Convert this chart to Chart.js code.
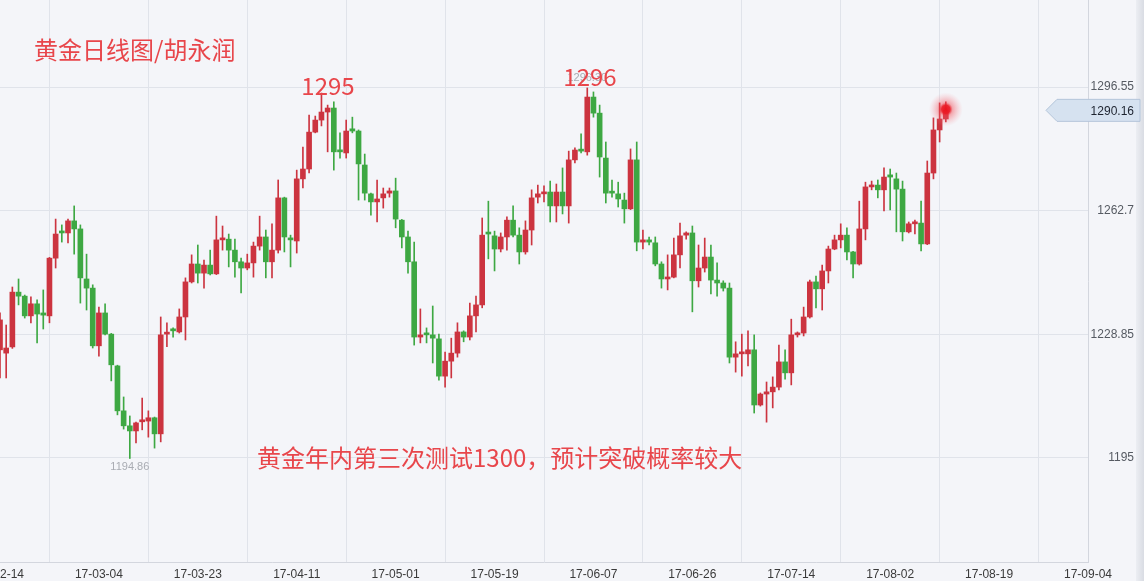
<!DOCTYPE html>
<html>
<head>
<meta charset="utf-8">
<title>黄金日线图</title>
<script src="https://cdn.jsdelivr.net/npm/chart.js@4.4.1/dist/chart.umd.min.js"></script>
<style>
  html, body { margin: 0; padding: 0; background: #f4f5f9; overflow: hidden; }
  #wrap { position: relative; width: 1144px; height: 581px; }
</style>
</head>
<body>
<div id="wrap"><canvas id="goldChart"></canvas></div>
<script>
// daily OHLC, one bar per trading day starting 17-02-14
var opens = [1224.6,1223.7,1225.4,1240.4,1239.3,1233.9,1237.2,1234.7,1233.9,1249.7,
  1256.9,1256.6,1259.9,1257.7,1244.0,1241.5,1225.7,1234.7,1228.9,1220.2,
  1207.9,1203.8,1202.4,1204.9,1205.1,1206.0,1201.6,1228.9,1230.0,1229.5,
  1233.6,1243.2,1248.1,1245.6,1247.8,1245.4,1254.7,1254.9,1251.9,1248.7,
  1247.0,1248.4,1253.0,1255.5,1248.7,1251.9,1266.2,1255.2,1254.4,1271.4,
  1274.1,1284.2,1287.5,1289.7,1290.8,1279.3,1278.5,1285.1,1284.5,1275.2,
  1267.3,1265.1,1266.2,1267.5,1268.1,1260.1,1255.5,1248.7,1228.1,1229.2,
  1228.7,1227.6,1217.4,1221.5,1223.7,1229.5,1228.1,1233.9,1236.9,1256.6,
  1255.8,1252.2,1255.5,1260.1,1256.0,1251.4,1257.4,1266.4,1267.3,1267.8,
  1264.0,1267.8,1264.0,1276.6,1279.3,1278.8,1293.8,1289.4,1277.1,1267.8,
  1267.3,1265.6,1263.2,1276.6,1254.1,1254.7,1253.9,1248.1,1244.0,1244.5,
  1250.6,1256.0,1256.6,1243.5,1247.0,1250.0,1243.7,1242.9,1241.5,1222.6,
  1223.5,1223.5,1224.6,1209.5,1212.5,1213.1,1214.4,1221.3,1218.3,1228.7,
  1229.2,1233.6,1243.2,1241.3,1246.2,1252.2,1254.7,1256.0,1251.4,1248.1,
  1257.7,1269.2,1269.7,1268.4,1272.5,1271.4,1268.6,1256.9,1259.1,1259.3,
  1253.6,1273.0,1284.8,1287.8];
var highs = [1234.7,1231.4,1241.8,1244.0,1239.6,1239.1,1238.3,1241.0,1249.9,1260.4,
  1258.8,1260.4,1264.0,1258.8,1250.8,1242.4,1236.3,1237.2,1229.1,1220.4,
  1211.7,1206.5,1204.8,1211.4,1207.9,1206.2,1233.6,1232.0,1230.6,1235.8,
  1244.3,1250.6,1253.3,1249.2,1251.9,1261.2,1258.5,1256.3,1254.9,1249.7,
  1250.8,1254.1,1261.2,1257.4,1259.1,1271.1,1266.4,1256.0,1273.8,1280.1,
  1288.9,1288.6,1294.9,1291.6,1292.5,1284.0,1287.5,1288.3,1284.8,1278.2,
  1267.5,1271.1,1268.9,1268.9,1271.6,1260.3,1257.1,1254.1,1235.8,1230.6,
  1236.6,1228.9,1224.0,1227.8,1232.0,1229.8,1237.4,1239.3,1260.7,1265.3,
  1257.1,1256.6,1261.0,1264.0,1258.0,1259.9,1268.4,1269.7,1269.5,1270.8,
  1270.0,1274.4,1279.0,1279.9,1283.7,1296.3,1295.2,1291.6,1281.5,1271.1,
  1270.5,1267.5,1279.6,1281.5,1257.4,1255.5,1255.5,1248.7,1250.6,1255.2,
  1259.3,1256.9,1258.5,1253.3,1255.2,1253.3,1248.4,1243.5,1242.9,1226.8,
  1228.9,1229.8,1228.7,1212.8,1215.8,1217.2,1225.9,1224.6,1233.0,1229.5,
  1236.3,1243.7,1244.8,1247.8,1253.0,1256.0,1259.1,1258.0,1251.6,1265.3,
  1270.5,1270.8,1271.1,1274.4,1274.1,1273.0,1270.8,1259.6,1260.1,1265.3,
  1276.3,1288.1,1292.2,1292.5];
var lows = [1216.9,1216.9,1225.0,1236.9,1233.3,1232.0,1226.5,1230.3,1232.0,1247.0,
  1254.1,1253.9,1250.8,1237.4,1235.5,1225.1,1222.9,1228.7,1216.1,1206.8,
  1202.9,1194.86,1199.1,1202.7,1200.7,1197.7,1199.4,1225.5,1228.1,1229.2,
  1227.3,1242.9,1242.9,1241.5,1245.1,1245.2,1251.9,1247.3,1244.5,1240.2,
  1246.5,1244.5,1251.9,1244.3,1244.3,1251.1,1251.4,1247.3,1251.1,1268.9,
  1273.0,1284.0,1285.9,1278.8,1273.8,1277.1,1277.1,1284.0,1265.6,1265.6,
  1261.5,1259.6,1263.4,1266.4,1258.0,1252.5,1245.6,1225.9,1226.5,1226.5,
  1221.0,1216.3,1214.4,1216.9,1222.6,1226.8,1227.3,1229.5,1236.1,1249.5,
  1246.2,1251.4,1251.9,1255.5,1248.1,1250.8,1253.3,1264.8,1265.1,1259.6,
  1259.6,1261.8,1259.3,1275.8,1278.5,1277.9,1288.3,1271.9,1264.8,1266.4,
  1263.7,1259.3,1263.0,1251.7,1252.2,1253.3,1247.6,1241.5,1241.0,1244.3,
  1247.0,1254.9,1235.0,1241.8,1245.9,1239.9,1239.3,1240.7,1221.0,1218.5,
  1217.4,1220.2,1207.3,1209.2,1204.8,1208.7,1213.6,1216.6,1215.0,1228.1,
  1228.4,1233.3,1236.1,1235.5,1242.9,1252.0,1252.5,1249.2,1244.3,1247.8,
  1254.7,1268.4,1266.2,1262.6,1262.9,1256.9,1254.4,1256.6,1256.3,1251.7,
  1253.4,1271.4,1281.5,1287.0];
var closes = [1232.8,1225.1,1240.4,1239.3,1233.9,1237.2,1234.4,1234.1,1249.7,1256.3,
  1256.6,1259.9,1257.7,1244.3,1241.5,1225.7,1234.7,1228.9,1220.5,1207.9,
  1203.8,1202.4,1204.6,1205.1,1206.0,1201.6,1228.7,1229.2,1229.8,1233.6,
  1243.2,1248.1,1245.6,1247.8,1245.4,1254.7,1255.2,1251.9,1248.7,1247.0,
  1248.4,1253.0,1255.5,1248.7,1251.9,1266.2,1255.5,1254.7,1271.4,1274.1,
  1284.2,1287.5,1289.7,1290.8,1278.8,1278.8,1284.5,1284.5,1275.5,1267.5,
  1265.1,1265.9,1267.3,1268.1,1260.4,1255.5,1248.7,1228.1,1228.7,1228.7,
  1227.8,1217.4,1221.5,1223.7,1229.5,1228.1,1233.9,1236.9,1256.0,1256.3,
  1252.2,1255.5,1260.1,1256.0,1251.4,1257.4,1266.2,1267.3,1267.8,1264.0,
  1267.8,1264.0,1276.6,1279.3,1279.0,1293.8,1289.4,1277.4,1267.5,1267.5,
  1265.9,1263.2,1276.6,1254.1,1254.7,1254.1,1248.1,1244.0,1244.5,1250.6,
  1255.8,1256.6,1243.5,1247.0,1250.0,1243.7,1242.9,1241.5,1222.6,1223.5,
  1224.0,1224.6,1209.5,1212.5,1213.1,1214.4,1221.3,1218.3,1228.7,1229.2,
  1233.6,1243.2,1241.3,1246.2,1252.2,1254.7,1256.0,1251.4,1248.1,1257.7,
  1269.2,1269.7,1268.4,1271.9,1271.9,1268.6,1256.9,1259.1,1259.6,1253.6,
  1273.0,1284.8,1287.8,1290.16];

var xTickLabels = ["17-02-14","17-03-04","17-03-23","17-04-11","17-05-01","17-05-19",
  "17-06-07","17-06-26","17-07-14","17-08-02","17-08-19","17-09-04"];
var yTicks = [1195, 1228.85, 1262.7, 1296.55];
var BARS_PER_TICK = 16;

var UP = "#cc3440", DOWN = "#3ea843";
var TXT_RED = "#e8464b";
var CJK = '"Noto Sans CJK SC", "Microsoft YaHei", sans-serif';

var colors = closes.map(function (c, i) { return c >= opens[i] ? UP : DOWN; });
var wicks = closes.map(function (c, i) { return { x: i, y: [lows[i], highs[i]] }; });
var bodies = closes.map(function (c, i) { return { x: i, y: [opens[i], c] }; });

var decor = {
  id: "decor",
  beforeDraw: function (chart) {
    var ctx = chart.ctx, w = chart.width, h = chart.height;
    ctx.save();
    ctx.fillStyle = "#f4f5f9";
    ctx.fillRect(0, 0, w, h);
    var g = ctx.createLinearGradient(w - 8, 0, w, 0);
    g.addColorStop(0, "#eceef3");
    g.addColorStop(1, "#d9dce3");
    ctx.fillStyle = g;
    ctx.fillRect(w - 8, 0, 8, h);
    ctx.restore();
  },
  afterDatasetsDraw: function (chart) {
    var ctx = chart.ctx, xs = chart.scales.x, ys = chart.scales.y;
    ctx.save();

    // min / max marks
    var lo = Math.min.apply(null, lows), hi = Math.max.apply(null, highs);
    ctx.font = "11px 'Liberation Sans', Arial, sans-serif";
    ctx.fillStyle = "#a9acb3";
    ctx.textAlign = "center";
    ctx.textBaseline = "middle";
    ctx.fillText(lo.toFixed(2), xs.getPixelForValue(lows.indexOf(lo)), ys.getPixelForValue(lo) + 8);
    ctx.fillText(hi.toFixed(2), xs.getPixelForValue(highs.indexOf(hi)), ys.getPixelForValue(hi) - 10);

    // glowing last price dot
    var last = closes.length - 1;
    var lx = xs.getPixelForValue(last), ly = ys.getPixelForValue(closes[last]);
    var rg = ctx.createRadialGradient(lx, ly - 1, 0, lx, ly - 1, 17);
    rg.addColorStop(0, "rgba(235,20,30,1)");
    rg.addColorStop(0.25, "rgba(235,30,40,0.95)");
    rg.addColorStop(0.4, "rgba(240,70,80,0.45)");
    rg.addColorStop(1, "rgba(250,140,150,0)");
    ctx.fillStyle = rg;
    ctx.beginPath();
    ctx.arc(lx, ly - 1, 17, 0, Math.PI * 2);
    ctx.fill();

    // current price tag on the right
    var tl = 1046, tr = chart.width - 4, th = 11;
    ctx.beginPath();
    ctx.moveTo(tl, ly);
    ctx.lineTo(tl + 11, ly - th);
    ctx.lineTo(tr, ly - th);
    ctx.lineTo(tr, ly + th);
    ctx.lineTo(tl + 11, ly + th);
    ctx.closePath();
    ctx.fillStyle = "#d6e2f0";
    ctx.fill();
    ctx.strokeStyle = "#b4c5da";
    ctx.lineWidth = 1;
    ctx.stroke();
    ctx.font = "12px 'Liberation Sans', Arial, sans-serif";
    ctx.fillStyle = "#1e2430";
    ctx.textAlign = "right";
    ctx.fillText(String(closes[last]), ys.right, ly + 1);

    // annotations
    ctx.fillStyle = TXT_RED;
    ctx.textAlign = "left";
    ctx.font = "24px " + CJK;
    ctx.fillText("黄金日线图/胡永润", 34, 50);
    ctx.fillText("黄金年内第三次测试1300，预计突破概率较大", 257, 458);
    ctx.textAlign = "center";
    ctx.fillText("1295", 328, 86);
    ctx.fillText("1296", 590, 77);
    ctx.restore();
  }
};

new Chart(document.getElementById("goldChart"), {
  type: "bar",
  data: {
    datasets: [
      { label: "wick", data: wicks, backgroundColor: colors, barThickness: 1, grouped: false },
      { label: "body", data: bodies, backgroundColor: colors, barThickness: 5, minBarLength: 2, grouped: false }
    ]
  },
  options: {
    responsive: true,
    maintainAspectRatio: false,
    animation: false,
    layout: { padding: { left: 0, top: 0, right: 10, bottom: 0 } },
    plugins: { legend: { display: false }, tooltip: { enabled: false } },
    scales: {
      x: {
        type: "linear",
        min: 0,
        max: BARS_PER_TICK * (xTickLabels.length - 1),
        offset: false,
        grid: { color: "#e0e3ea", drawTicks: false },
        border: { display: true, color: "#d3d6de" },
        ticks: {
          autoSkip: false, maxRotation: 0, padding: 5, color: "#3a3a3a",
          font: { size: 12, family: "'Liberation Sans', Arial, sans-serif" },
          callback: function (v) { return xTickLabels[Math.round(v / BARS_PER_TICK)]; }
        },
        afterBuildTicks: function (s) {
          s.ticks = xTickLabels.map(function (_, k) { return { value: k * BARS_PER_TICK }; });
        },
        afterFit: function (s) { s.paddingLeft = 0; s.paddingRight = 0; s.height = 19; }
      },
      y: {
        position: "right",
        min: 1166.52,
        max: 1320.37,
        grid: { color: "#e0e3ea", drawTicks: false },
        border: { display: true, color: "#d3d6de" },
        ticks: {
          crossAlign: "far", color: "#555a62",
          font: { size: 12, family: "'Liberation Sans', Arial, sans-serif" },
          callback: function (v) { return String(v); }
        },
        afterBuildTicks: function (s) {
          s.ticks = yTicks.map(function (v) { return { value: v }; });
        },
        afterFit: function (s) { s.width = 46; s.paddingTop = 0; s.paddingBottom = 0; }
      }
    }
  },
  plugins: [decor]
});
</script>
</body>
</html>
